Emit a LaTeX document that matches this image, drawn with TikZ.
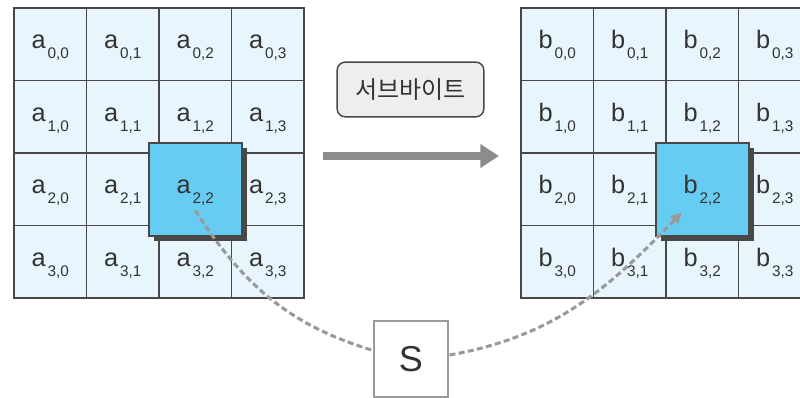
\documentclass[tikz,border=0pt]{standalone}
\usepackage{fontspec}
\setmainfont{Liberation Sans}
\newfontfamily\kofont{Noto Sans CJK KR}
\usepackage{tikz}
\usetikzlibrary{arrows.meta}
\usetikzlibrary{shadows}
\usetikzlibrary{positioning}

\definecolor{cellblue}{HTML}{E8F5FD}
\definecolor{hiblue}{HTML}{66CCF2}
\definecolor{gridgray}{HTML}{484848}
\definecolor{textgray}{HTML}{333333}
\definecolor{dashgray}{HTML}{9A9A9A}
\definecolor{arrowgray}{HTML}{8C8C8C}
\definecolor{labelgray}{HTML}{EDEEEE}

% state element with its row,column index
\newcommand\elem[3]{#1\hspace{1.5pt}\raisebox{-7.5pt}{\fontsize{11.5}{11.5}\selectfont #2,#3}}

\tikzset{
  cell/.style={draw=gridgray, line width=1pt, fill=cellblue, text=textgray,
    minimum size=54.4pt, inner sep=0pt, text height=16.3pt, text depth=9.5pt,
    font=\fontsize{19}{19}\selectfont},
  hicell/.style={cell, fill=hiblue, line width=1.6pt, minimum size=70pt,
    drop shadow={shadow xshift=3.8pt, shadow yshift=-3.8pt, fill=gridgray, opacity=1}},
  labelbox/.style={draw=gridgray, line width=1.1pt, fill=labelgray, rounded corners=6pt,
    text=textgray, minimum width=110pt, minimum height=41pt,
    font=\kofont\fontsize{18}{18}\selectfont},
  sbox/.style={draw=dashgray, line width=2.2pt, fill=white, text=textgray,
    minimum width=55.5pt, minimum height=57pt, font=\fontsize{27}{27}\selectfont},
  bigarrow/.style={draw=arrowgray, line width=6pt,
    -{Triangle[length=14pt,width=17pt]}},
  dashline/.style={draw=dashgray, line width=2.3pt, dash pattern=on 4.5pt off 2.5pt}
}

\begin{document}
\begin{tikzpicture}[x=0.75pt,y=0.75pt]
\clip (0,0) rectangle (800,-398);
\fill[white] (0,0) rectangle (800,-398);

% input and output state
\foreach \r in {0,...,3}
  \foreach \c in {0,...,3} {
    \node[cell] (a\r\c) at ({50.25+72.5*\c},{-44.25-72.5*\r}) {\elem{a}{\r}{\c}};
    \node[cell] (b\r\c) at ({557.25+72.5*\c},{-44.25-72.5*\r}) {\elem{b}{\r}{\c}};
  }
\node[hicell] (hla) at (a22) {\elem{a}{2}{2}};
\node[hicell] (hlb) at (b22) {\elem{b}{2}{2}};

% step between the two states
\node[labelbox] (step) at (410.5,-89.5) {서브바이트};
\coordinate (p1) at (323,-156);
\coordinate (p2) at (499,-156);
\draw[bigarrow] (p1) -- (p2);

% byte goes through the S-box
\node[sbox] (s) at (411,-359) {S};
\coordinate (src) at ([yshift=-16pt]hla.center);
\coordinate (dst) at ([shift={(-15.5pt,-17.5pt)}]hlb.center);
\draw[dashline] (src) to[out=-57,in=163] ([yshift=6.5pt]s.west);
\draw[dashline,-{Triangle[length=8pt,width=8pt]}] ([yshift=3pt]s.east)
  to[out=10,in=226] (dst);
\end{tikzpicture}
\end{document}
